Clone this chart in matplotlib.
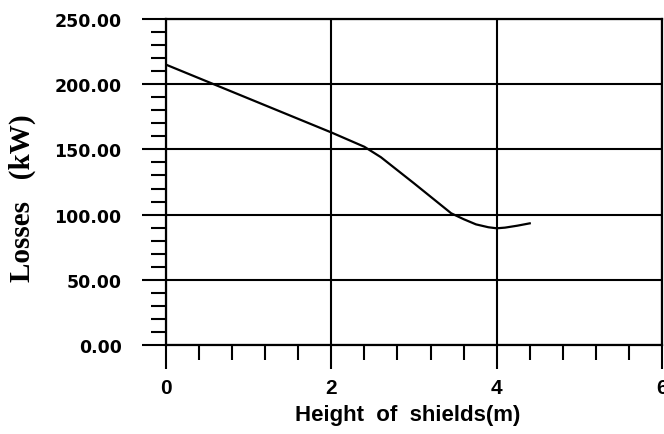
import matplotlib
matplotlib.use("Agg")
import matplotlib.pyplot as plt
from matplotlib.ticker import MultipleLocator, FormatStrFormatter

# values
height_m = [0.0, 0.5, 1.0, 1.5, 2.0, 2.4, 2.6, 3.0, 3.45, 3.6, 3.75, 3.9, 4.0, 4.1, 4.25, 4.4]
losses_kw = [215, 202, 189, 176, 163, 152, 144, 124, 101, 96.5, 92.5, 90.3, 89.5, 90.0, 91.5, 93.3]

x_ticks = [0, 2, 4, 6]
y_ticks = [0, 50, 100, 150, 200, 250]

fig = plt.figure(figsize=(6.64, 4.35), dpi=100)
ax = fig.add_axes([0.25, 0.2046, 0.747, 0.7494])

ax.plot(height_m, losses_kw, color="black", lw=1.6)

ax.set_xlim(0, 6)
ax.set_ylim(0, 250)
ax.set_xticks(x_ticks)
ax.set_yticks(y_ticks)
ax.xaxis.set_minor_locator(MultipleLocator(0.4))
ax.yaxis.set_minor_locator(MultipleLocator(10))
ax.yaxis.set_major_formatter(FormatStrFormatter("%.2f"))

ax.grid(True, which="major", color="black", lw=1.5)
for s in ax.spines.values():
    s.set_linewidth(1.6)

ax.tick_params(which="major", direction="out", length=17, width=1.5, pad=7)
ax.tick_params(which="minor", direction="out", length=11, width=1.5)
ax.tick_params(axis="y", which="major", pad=15)

for lab in ax.get_yticklabels():
    lab.set_fontfamily("DejaVu Sans")
    lab.set_fontweight("bold")
    lab.set_fontsize(12.5)
for lab in ax.get_xticklabels():
    lab.set_fontfamily("Liberation Sans")
    lab.set_fontweight("bold")
    lab.set_fontsize(15)

# y label sits a bit lower than the axes centre in the scan
fig.text(22 / 664, 1 - 198 / 435, "Losses   (kW)", rotation=90, ha="center", va="center",
         fontfamily="Liberation Serif", fontweight="bold", fontsize=21)
ax.set_xlabel("Height  of  shields(m)", fontfamily="Liberation Sans", fontweight="bold",
              fontsize=16)
ax.xaxis.set_label_coords(0.488, -0.182)

fig.savefig("out.png", dpi=100)
